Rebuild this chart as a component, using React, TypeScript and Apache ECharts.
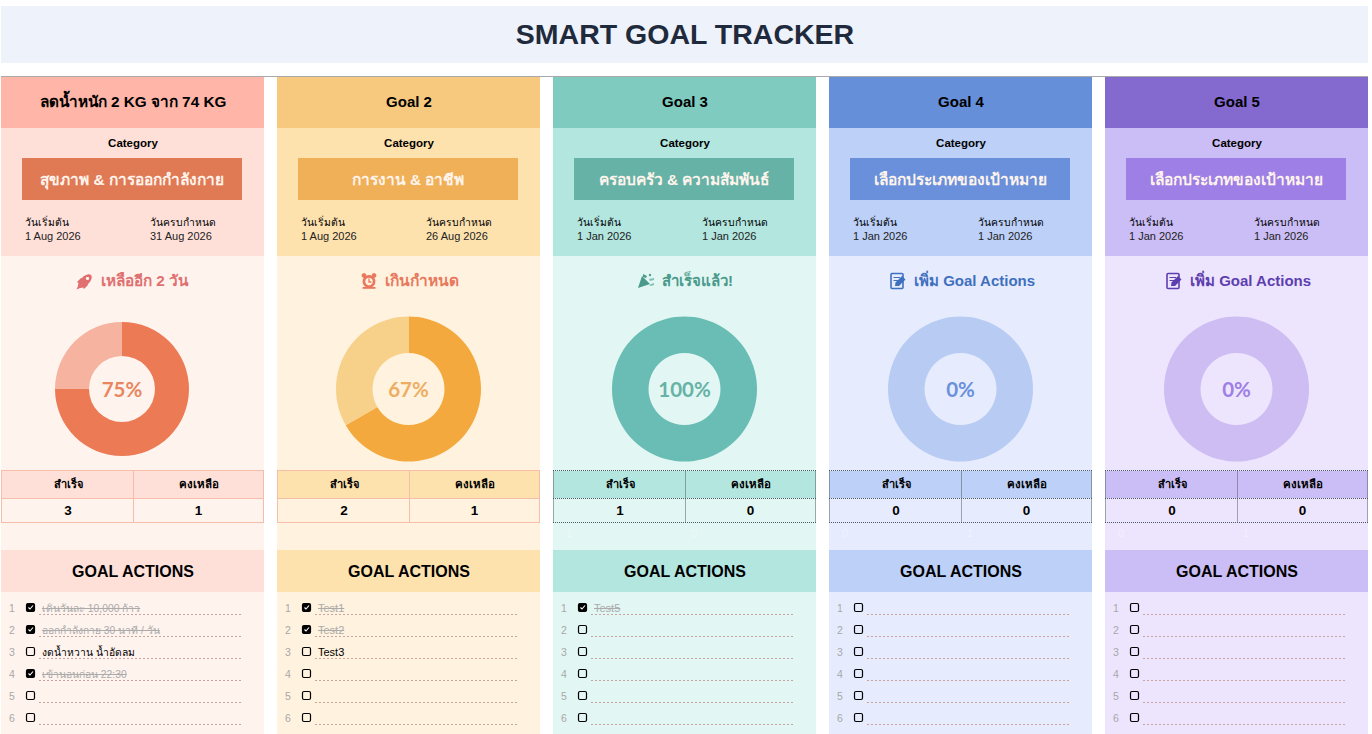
import React, { useEffect, useRef } from "react";
import * as echarts from "echarts";

const pageTitle = "SMART GOAL TRACKER";
const goalTitles = ["ลดน้ำหนัก 2 KG จาก 74 KG", "Goal 2", "Goal 3", "Goal 4", "Goal 5"];
const categories = ["สุขภาพ & การออกกำลังกาย", "การงาน & อาชีพ", "ครอบครัว & ความสัมพันธ์", "เลือกประเภทของเป้าหมาย", "เลือกประเภทของเป้าหมาย"];
const startDates = ["1 Aug 2026", "1 Aug 2026", "1 Jan 2026", "1 Jan 2026", "1 Jan 2026"];
const dueDates = ["31 Aug 2026", "26 Aug 2026", "1 Jan 2026", "1 Jan 2026", "1 Jan 2026"];
const statusTexts = ["เหลืออีก 2 วัน", "เกินกำหนด", "สำเร็จแล้ว!", "เพิ่ม Goal Actions", "เพิ่ม Goal Actions"];
const doneCounts = [3, 2, 1, 0, 0];
const remainCounts = [1, 1, 0, 0, 0];
const emptyPlaceholder = [0, 0, 0, 1, 1];
const percentLabels = ["75%", "67%", "100%", "0%", "0%"];
const actionTexts = [
  ["เดินวันละ 10,000 ก้าว", "ออกกำลังกาย 30 นาที / วัน", "งดน้ำหวาน น้ำอัดลม", "เข้านอนก่อน 22:30", "", ""],
  ["Test1", "Test2", "Test3", "", "", ""],
  ["Test5", "", "", "", "", ""],
  ["", "", "", "", "", ""],
  ["", "", "", "", "", ""],
];
const actionChecked = [
  [1, 1, 0, 1, 0, 0],
  [1, 1, 0, 0, 0, 0],
  [1, 0, 0, 0, 0, 0],
  [0, 0, 0, 0, 0, 0],
  [0, 0, 0, 0, 0, 0],
];
const faintLabels = [null, null, ["1", "0"], ["0", "1"], ["0", "1"]];

const colLeft = [1, 277, 553, 829, 1105];
const colWidth = 263;
const donutRadius = [[33, 67], [36, 72.5], [36, 72.5], [36, 72.5], [36, 72.5]];
const statusLeft = [100, 108, 109, 85, 85];
const statusSize = [15.3, 15.5, 15, 15, 15];
const headerColors = ["#FFB5A7", "#F7C97F", "#80CBC0", "#668FDA", "#8469CF"];
const bandColors = ["#FFE0D9", "#FEE2AE", "#B2E6DF", "#BCD0F8", "#CBBDF5"];
const bodyColors = ["#FFF3EE", "#FFF2DE", "#E2F6F3", "#E6ECFE", "#EDE5FD"];
const chipColors = ["#E07A55", "#F0B058", "#66B2A6", "#6A90DC", "#9D7FE6"];
const doneColors = ["#EC7B55", "#F4A93F", "#69BDB4", "#B8CCF3", "#CDBDF2"];
const restColors = ["#F6B3A0", "#F7D189", "#B2E6DF", "#BCD0F8", "#CBBDF5"];
const pctColors = ["#E8875E", "#EDAE63", "#66B2A6", "#6A90DC", "#9D7FE6"];
const statusColors = ["#E07070", "#E8795E", "#4A9A8C", "#3F70BF", "#5E3FAF"];
const tableDotted = [false, false, true, true, true];

const FONT = '"Liberation Sans", Arial, "Noto Sans", sans-serif';

function txt(x: number, y: number, text: string, size: number, fill: string, opts: any = {}) {
  return {
    type: "text",
    x,
    y,
    z: 20,
    silent: true,
    style: {
      text,
      fill,
      fontFamily: opts.family || FONT,
      fontSize: size,
      fontWeight: opts.weight || "normal",
      textAlign: opts.align || "left",
      textVerticalAlign: "middle",
      verticalAlign: "middle",
    },
  };
}
function box(x: number, y: number, w: number, h: number, fill: string, z = 1) {
  return { type: "rect", z, silent: true, shape: { x, y, width: w, height: h }, style: { fill } };
}
function seg(x1: number, y1: number, x2: number, y2: number, stroke: string, dash?: number[], z = 6) {
  return {
    type: "line",
    z,
    silent: true,
    shape: { x1, y1, x2, y2 },
    style: { stroke, lineWidth: 1, lineDash: dash || undefined },
  };
}

function statusIcon(i: number, cx: number, cy: number, color: string, bg: string) {
  const z = 20;
  const s = { fill: color };
  if (i === 0) {
    return [
      { type: "ellipse", z, silent: true, x: cx, y: cy, rotation: Math.PI / 4, shape: { cx: 0, cy: 0, rx: 8.5, ry: 4.4 }, style: s },
      { type: "polygon", z, silent: true, shape: { points: [[cx - 8, cy + 1], [cx - 4, cy - 3], [cx - 1, cy - 1], [cx - 5, cy + 3]] }, style: s },
      { type: "polygon", z, silent: true, shape: { points: [[cx - 1, cy + 8], [cx + 3, cy + 4], [cx + 1, cy + 1], [cx - 3, cy + 5]] }, style: s },
      { type: "circle", z: 21, silent: true, shape: { cx: cx + 2.5, cy: cy - 2.5, r: 1.6 }, style: { fill: bg } },
      { type: "polygon", z, silent: true, shape: { points: [[cx - 8.5, cy + 8.5], [cx - 6, cy + 2.5], [cx - 2.5, cy + 6]] }, style: s },
    ];
  }
  if (i === 1) {
    return [
      { type: "ring", z, silent: true, shape: { cx, cy: cy + 0.5, r: 6.4, r0: 3.8 }, style: s },
      { type: "circle", z, silent: true, shape: { cx: cx - 5, cy: cy - 5.5, r: 2.4 }, style: s },
      { type: "circle", z, silent: true, shape: { cx: cx + 5, cy: cy - 5.5, r: 2.4 }, style: s },
      { type: "polyline", z, silent: true, shape: { points: [[cx, cy - 2.5], [cx, cy + 1], [cx + 2.5, cy + 1]] }, style: { stroke: color, lineWidth: 1.3, fill: "none" } },
      { type: "rect", z, silent: true, shape: { x: cx - 6.5, y: cy + 6, width: 13, height: 1.8 }, style: s },
    ];
  }
  if (i === 2) {
    return [
      { type: "polygon", z, silent: true, shape: { points: [[cx - 8, cy + 7], [cx - 4, cy - 5], [cx + 4, cy + 3]] }, style: s },
      { type: "polygon", z, silent: true, shape: { points: [[cx - 3, cy - 7], [cx + 1, cy - 5], [cx, cy - 3], [cx - 3, cy - 4]] }, style: s },
      { type: "polygon", z, silent: true, shape: { points: [[cx + 3, cy - 2], [cx + 8, cy - 3], [cx + 8, cy - 1], [cx + 4, cy]] }, style: { fill: "#7FBFB5" } },
      { type: "circle", z, silent: true, shape: { cx: cx + 4, cy: cy - 6, r: 1.2 }, style: s },
      { type: "polygon", z, silent: true, shape: { points: [[cx + 3, cy + 4], [cx + 8, cy + 2], [cx + 8, cy + 4], [cx + 5, cy + 5]] }, style: { fill: "#7FBFB5" } },
    ];
  }
  return [
    { type: "rect", z, silent: true, shape: { x: cx - 7, y: cy - 7.5, width: 12, height: 15, r: 1 }, style: { fill: "none", stroke: color, lineWidth: 1.6 } },
    seg(cx - 4.5, cy - 3.5, cx + 2, cy - 3.5, color, undefined, z),
    seg(cx - 4.5, cy - 0.5, cx + 0, cy - 0.5, color, undefined, z),
    { type: "polygon", z: 21, silent: true, shape: { points: [[cx - 3, cy + 5], [cx - 2.5, cy + 1.5], [cx + 4, cy - 5], [cx + 7.5, cy - 1.5], [cx + 1, cy + 5]] }, style: { fill: color } },
  ];
}

function buildGraphics() {
  const els: any[] = [];
  els.push(box(1, 6, 1367, 57, "#EDF2FB"));
  els.push(txt(685, 34, pageTitle, 28.5, "#1F2A3C", { weight: "bold", align: "center" }));
  els.push(seg(1, 76.5, 1368, 76.5, "#AAAAAA"));

  goalTitles.forEach((title, i) => {
    const x = colLeft[i];
    els.push(box(x, 256, colWidth, 478, bodyColors[i]));
    els.push(box(x, 77, colWidth, 51, headerColors[i]));
    els.push(box(x, 128, colWidth, 128, bandColors[i]));
    els.push(txt(x + 132, 101, title, i === 0 ? 15.3 : 15, "#000000", { weight: "bold", align: "center" }));
    els.push(txt(x + 132, 143, "Category", 11.5, "#000000", { weight: "bold", align: "center" }));
    els.push(box(x + 21, 158, 220, 42, chipColors[i], 2));
    els.push(txt(x + 131, 179, categories[i], 15.5, "#FFF4EC", { weight: "bold", align: "center" }));
    els.push(txt(x + 24, 222, "วันเริ่มต้น", 10.3, "#000000"));
    els.push(txt(x + 149, 222, "วันครบกำหนด", 10.3, "#000000"));
    els.push(txt(x + 24, 236, startDates[i], 11, "#222222"));
    els.push(txt(x + 149, 236, dueDates[i], 11, "#222222"));

    els.push(...statusIcon(i, x + statusLeft[i] - 16, 281, statusColors[i], bodyColors[i]));
    els.push(txt(x + statusLeft[i], 280, statusTexts[i], statusSize[i], statusColors[i], { weight: "bold" }));

    els.push(txt(x + (i === 0 ? 121 : 131.5), 389, percentLabels[i], 20.5, pctColors[i], { weight: "bold", align: "center", family: 'Lato, "Liberation Sans", sans-serif' }));

    const tableStroke = tableDotted[i] ? "#4A5A60" : "#F5BDAA";
    const dash = tableDotted[i] ? [1, 1] : undefined;
    els.push(box(x, 471, colWidth, 27, bandColors[i], 3));
    els.push(box(x, 499, colWidth, 23, bodyColors[i], 3));
    [470.5, 498.5, 522.5].forEach((y) => els.push(seg(x, y, x + colWidth, y, tableStroke, dash)));
    [x + 0.5, x + 132.5, x + colWidth - 0.5].forEach((vx) => els.push(seg(vx, 470.5, vx, 522.5, tableStroke, dash)));
    els.push(txt(x + 67, 484, "สำเร็จ", 11, "#000000", { weight: "bold", align: "center" }));
    els.push(txt(x + 198, 484, "คงเหลือ", 11.5, "#000000", { weight: "bold", align: "center" }));
    els.push(txt(x + 67, 510, String(doneCounts[i]), 13.5, "#000000", { weight: "bold", align: "center" }));
    els.push(txt(x + 197.5, 510, String(remainCounts[i]), 13.5, "#000000", { weight: "bold", align: "center" }));

    const faint = faintLabels[i];
    if (faint) {
      els.push(txt(x + 16, 533, faint[0], 11, "rgba(255,255,255,0.4)", { align: "center" }));
      els.push(txt(x + 141, 533, faint[1], 11, "rgba(255,255,255,0.4)", { align: "center" }));
    }

    els.push(box(x, 550, colWidth, 42, bandColors[i], 2));
    els.push(txt(x + 132, 571, "GOAL ACTIONS", 16, "#000000", { weight: "bold", align: "center" }));

    actionTexts[i].forEach((text, r) => {
      const y = 608 + r * 22;
      const on = actionChecked[i][r] === 1;
      els.push(txt(x + 11, y, String(r + 1), 10.5, "#A8A8A8", { align: "center" }));
      els.push({
        type: "rect",
        z: 6,
        silent: true,
        shape: { x: x + 25.5, y: y - 4.5, width: 8, height: 8, r: 1.5 },
        style: { fill: on ? "#000000" : "none", stroke: "#000000", lineWidth: 1.2 },
      });
      if (on) {
        els.push({
          type: "polyline",
          z: 7,
          silent: true,
          shape: { points: [[x + 27.5, y - 0.5], [x + 29, y + 1], [x + 32, y - 2.5]] },
          style: { stroke: "#FFFFFF", lineWidth: 1.1, fill: "none" },
        });
      }
      els.push(seg(x + 38, y + 6.5, x + 242, y + 6.5, "#C9A3A0", [2, 2]));
      if (text) {
        const size = /[\u0E00-\u0E7F]/.test(text) ? 10.3 : 11;
        els.push(txt(x + 41, y, text, size, on ? "#ABABAB" : "#000000"));
        if (on) {
          const width = (echarts.format as any).getTextRect
            ? (echarts.format as any).getTextRect(text, `${size}px ${FONT}`).width
            : text.length * 6;
          els.push(seg(x + 41, y + 0.5, x + 41 + width, y + 0.5, "#ABABAB", undefined, 21));
        }
      }
    });
  });
  return els;
}

export default function App() {
  const ref = useRef<HTMLDivElement>(null);
  useEffect(() => {
    document.body.style.margin = "0";
    const chart = echarts.init(ref.current!, null, { renderer: "svg" });
    chart.setOption({
      animation: false,
      backgroundColor: "#FFFFFF",
      graphic: { elements: buildGraphics() },
      series: goalTitles.map((title, i) => ({
        type: "pie",
        name: title,
        silent: true,
        z: 5,
        center: [i === 0 ? 122 : colLeft[i] + 131.5, 389],
        radius: donutRadius[i],
        startAngle: 90,
        clockwise: true,
        label: { show: false },
        labelLine: { show: false },
        emphasis: { disabled: true },
        data: [
          { name: "สำเร็จ", value: doneCounts[i], itemStyle: { color: doneColors[i] } },
          { name: "คงเหลือ", value: remainCounts[i], itemStyle: { color: restColors[i] } },
          { name: "ว่าง", value: emptyPlaceholder[i], itemStyle: { color: doneColors[i] } },
        ],
      })),
    });
    return () => chart.dispose();
  }, []);
  return <div ref={ref} style={{ width: 1372, height: 734 }} />;
}
